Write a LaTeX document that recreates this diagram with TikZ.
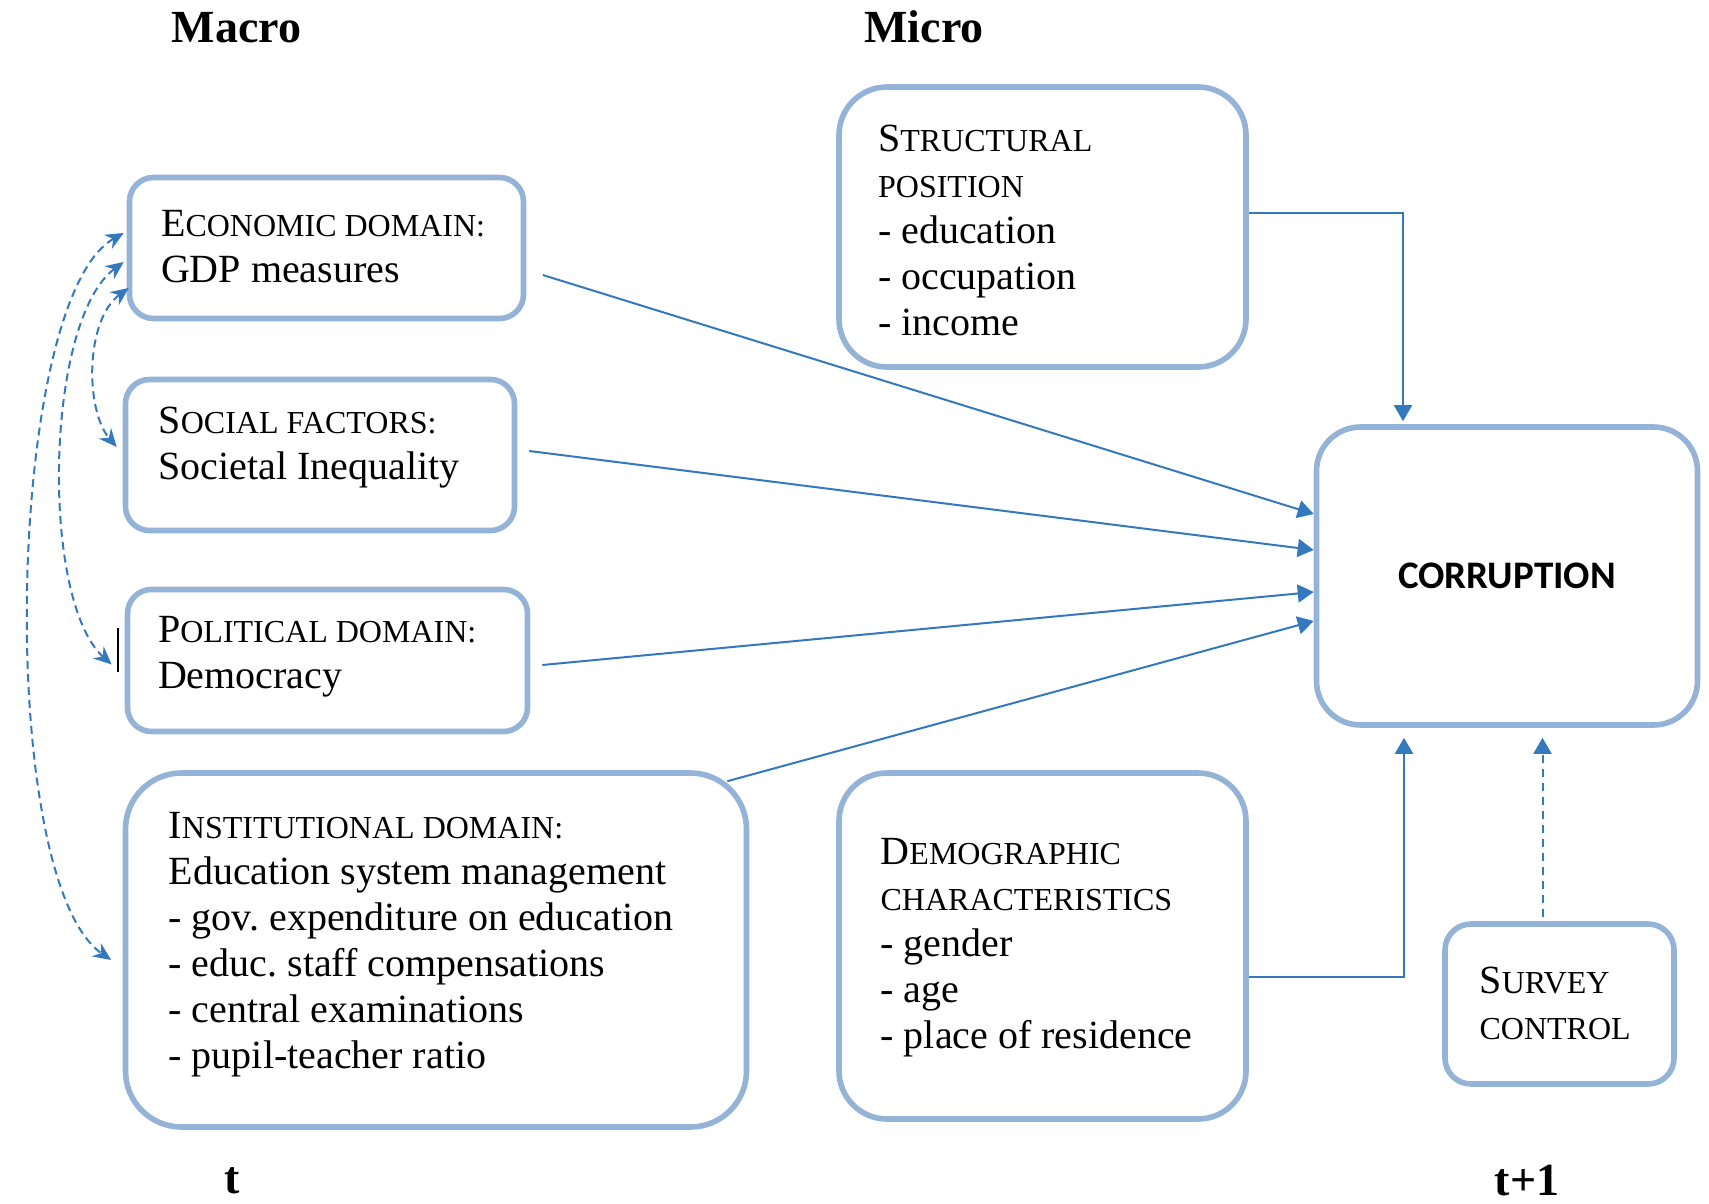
\documentclass[tikz,border=0pt]{standalone}
\usepackage{fontspec}
\setmainfont{Liberation Serif}
\newfontfamily\corrfont{Carlito}
\usetikzlibrary{calc,arrows.meta}
\definecolor{boxc}{RGB}{149,179,215}
\definecolor{linec}{RGB}{52,120,190}
\newcommand{\fsc}[1]{{\fontsize{16pt}{23pt}\selectfont #1}}
\begin{document}
\begin{tikzpicture}[x=0.5pt,y=-0.5pt,
  box/.style={draw=boxc, line width=2.8pt, rounded corners=12pt, inner sep=0pt, fill=white},
  txt/.style={anchor=west, align=left, inner sep=0pt, font=\fontsize{20pt}{23pt}\selectfont},
  conn/.style={draw=linec, line width=1pt, -{Triangle[length=8pt,width=9pt]}},
  dconn/.style={draw=linec, line width=1pt, dash pattern=on 4pt off 2.5pt, {Stealth[length=9pt,width=8pt,inset=3pt]}-{Stealth[length=9pt,width=8pt,inset=3pt]}},
  hdr/.style={anchor=base, font=\fontsize{23pt}{27pt}\selectfont\bfseries, inner sep=0pt}]
\fill[white] (0,0) rectangle (1709,1204);
\useasboundingbox (0,0) rectangle (1709,1204);

% headers
\node[hdr] (macro) at (236.5,43) {Macro};
\node[hdr] (micro) at (924,43) {Micro};
\node[hdr] (tt) at (232,1193) {t};
\node[hdr] (tt1) at (1527,1195) {t+1};

% boxes
\node[box, minimum width=197pt, minimum height=70.5pt] (eco) at (326.5,248) {};
\node[box, minimum width=194.5pt, minimum height=75.5pt] (soc) at (320,455) {};
\node[box, minimum width=200pt, minimum height=71pt] (pol) at (327.5,660.5) {};
\node[box, minimum width=310.5pt, minimum height=177pt, rounded corners=28pt] (inst) at (436,950) {};
\node[box, minimum width=203.5pt, minimum height=140pt, rounded corners=24pt] (struc) at (1042.5,227) {};
\node[box, minimum width=190.5pt, minimum height=149pt, rounded corners=22pt,
      font=\corrfont\bfseries\fontsize{19.5pt}{23pt}\selectfont] (cor) at (1507,576) {CORRUPTION};
\node[box, minimum width=203.5pt, minimum height=173pt, rounded corners=24pt] (demo) at (1042.5,946) {};
\node[box, minimum width=114.5pt, minimum height=80pt, rounded corners=13pt] (surv) at (1559.5,1004) {};

% texts
\node[txt] (ecot) at ($(eco.west)+(34,-1)$) {E\fsc{CONOMIC DOMAIN:}\\GDP measures};
\node[txt] (soct) at ($(soc.west)+(35.5,-7)$) {S\fsc{OCIAL FACTORS:}\\Societal Inequality};
\node[txt] (polt) at ($(pol.west)+(33,-3.5)$) {P\fsc{OLITICAL DOMAIN:}\\Democracy};
\node[txt] (instt) at ($(inst.west)+(45.5,-5)$) {I\fsc{NSTITUTIONAL DOMAIN:}\\Education system management\\- gov.\ expenditure on education\\- educ.\ staff compensations\\- central examinations\\- pupil-teacher ratio};
\node[txt] (struct) at ($(struc.west)+(41.5,3.5)$) {S\fsc{TRUCTURAL}\\\fsc{POSITION}\\- education\\- occupation\\- income};
\node[txt] (demot) at ($(demo.west)+(44,2)$) {D\fsc{EMOGRAPHIC}\\\fsc{CHARACTERISTICS}\\- gender\\- age\\- place of residence};
\node[txt] (survt) at ($(surv.west)+(37,-1)$) {S\fsc{URVEY}\\\fsc{CONTROL}};

% connectors to corruption
\draw[conn] ($(eco.east)+(16.5,27)$) -- ($(cor.west)+(0,-62)$);
\draw[conn] ($(soc.east)+(12,-4)$) -- ($(cor.west)+(0,-26)$);
\draw[conn] ($(pol.east)+(12,4.5)$) -- ($(cor.west)+(0,16)$);
\draw[conn] ($(inst.north east)+(-22,11)$) -- ($(cor.west)+(0,45)$);
\draw[conn] ($(struc.east)+(0,-14)$) -| ($(cor.north)+(-104,-3)$);
\draw[conn] ($(demo.east)+(0,31)$) -| ($(cor.south)+(-103,10)$);
\draw[conn, dash pattern=on 4pt off 3pt] ($(surv.north)+(-17,-4)$) -- ($(cor.south)+(35.5,10)$);

% dashed correlations
\draw[dconn] ($(eco.west)+(-3,-15)$) .. controls (5,300) and (-5,880) .. ($(inst.west)+(-11.5,10)$);
\draw[dconn] ($(eco.west)+(-3,14)$) .. controls (45,320) and (40,600) .. ($(pol.west)+(-13,4)$);
\draw[dconn] ($(eco.west)+(2,40)$) .. controls (85,320) and (85,410) .. ($(soc.west)+(-6,-8)$);

% cursor mark
\draw[black, line width=0.8pt] ($(pol.west)+(-6.5,-32.5)$) -- ($(pol.west)+(-6.5,11.5)$);
\end{tikzpicture}
\end{document}
